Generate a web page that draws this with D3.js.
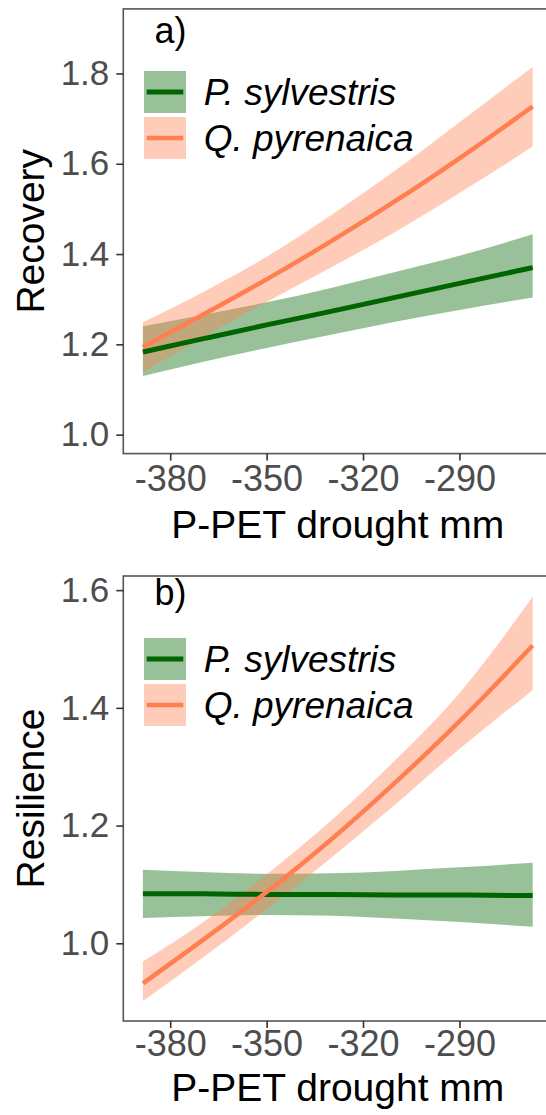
<!DOCTYPE html>
<html>
<head>
<meta charset="utf-8">
<script src="https://cdn.jsdelivr.net/npm/d3@7"></script>
<style>
  html, body { margin: 0; padding: 0; background: #ffffff; }
  svg { display: block; }
</style>
</head>
<body>
<div id="chart"></div>
<script>
// ---------- data ----------
const species = ["P. sylvestris", "Q. pyrenaica"];
const xPts = [-388.5, -370, -350, -330, -310, -290, -267.2];
const xTicks = [-380, -350, -320, -290];

// a) Recovery
const recPsFit = [1.183, 1.212, 1.243, 1.273, 1.304, 1.335, 1.370];
const recPsLo  = [1.130, 1.161, 1.192, 1.221, 1.250, 1.276, 1.304];
const recPsHi  = [1.240, 1.265, 1.293, 1.325, 1.360, 1.396, 1.444];
const recQpFit = [1.194, 1.265, 1.344, 1.428, 1.517, 1.612, 1.727];
const recQpLo  = [1.138, 1.215, 1.294, 1.370, 1.449, 1.535, 1.638];
const recQpHi  = [1.249, 1.315, 1.394, 1.486, 1.585, 1.692, 1.815];
const recTicks = [1.0, 1.2, 1.4, 1.6, 1.8];

// b) Resilience
const resPsFit = [1.084, 1.084, 1.083, 1.083, 1.082, 1.082, 1.081];
const resPsLo  = [1.043, 1.046, 1.048, 1.047, 1.042, 1.036, 1.028];
const resPsHi  = [1.125, 1.121, 1.118, 1.119, 1.123, 1.129, 1.137];
const resQpFit = [0.932, 1.005, 1.087, 1.176, 1.273, 1.377, 1.506];
const resQpLo  = [0.902, 0.975, 1.058, 1.145, 1.236, 1.330, 1.430];
const resQpHi  = [0.969, 1.035, 1.117, 1.208, 1.311, 1.425, 1.589];
const resTicks = [1.0, 1.2, 1.4, 1.6];

// ---------- styling ----------
const W = 546, H = 1115;
const colLine = ["#006400", "#FF7F50"];
const ribbonAlpha = 0.4;
const font = "'Liberation Sans', Arial, sans-serif";

const svg = d3.select("#chart").append("svg")
  .attr("width", W).attr("height", H)
  .style("background", "#fff");

function build(fit, lo, hi) {
  return xPts.map((x, i) => ({ x, fit: fit[i], lo: lo[i], hi: hi[i] }));
}

function panel(cfg) {
  const x = d3.scaleLinear().domain([-394.6, -261.1]).range([123.3, 552.3]);
  const y = d3.scaleLinear().domain(cfg.yDomain).range([cfg.bottom, cfg.top]);
  const g = svg.append("g");

  const clipId = "clip" + cfg.label.replace(/\W/g, "");
  svg.append("clipPath").attr("id", clipId)
    .append("rect").attr("x", 123.3).attr("y", cfg.top)
    .attr("width", 460).attr("height", cfg.bottom - cfg.top);

  const plot = g.append("g").attr("clip-path", `url(#${clipId})`);
  const area = d3.area().x(d => x(d.x)).y0(d => y(d.lo)).y1(d => y(d.hi)).curve(d3.curveMonotoneX);
  const line = d3.line().x(d => x(d.x)).y(d => y(d.fit)).curve(d3.curveMonotoneX);

  cfg.series.forEach((s, i) => {
    plot.append("path").datum(s).attr("d", area)
      .attr("fill", colLine[i]).attr("fill-opacity", ribbonAlpha);
  });
  cfg.series.forEach((s, i) => {
    plot.append("path").datum(s).attr("d", line)
      .attr("fill", "none").attr("stroke", colLine[i])
      .attr("stroke-width", i === 0 ? 5 : 4.5);
  });

  // panel border
  g.append("rect").attr("x", 123.3).attr("y", cfg.top)
    .attr("width", 460).attr("height", cfg.bottom - cfg.top)
    .attr("fill", "none").attr("stroke", "#555").attr("stroke-width", 1.6);

  // axes
  const ya = g.append("g").attr("transform", "translate(123.3,0)")
    .call(d3.axisLeft(y).tickValues(cfg.yTicks).tickFormat(d3.format(".1f")).tickSize(7).tickPadding(7));
  const xa = g.append("g").attr("transform", `translate(0,${cfg.bottom})`)
    .call(d3.axisBottom(x).tickValues(xTicks).tickFormat(d => String(d)).tickSize(7).tickPadding(cfg.xPad));
  [ya, xa].forEach(a => {
    a.select(".domain").remove();
    a.selectAll(".tick line").attr("stroke", "#333").attr("stroke-width", 1.6);
    a.selectAll(".tick text").attr("fill", "#4d4d4d")
      .style("font-family", font).style("font-size", "35px");
  });
  xa.selectAll(".tick text").style("font-size", "36px");

  // titles
  g.append("text").attr("x", 337.8).attr("y", cfg.xTitleY)
    .attr("text-anchor", "middle").style("font-family", font).style("font-size", "39px")
    .attr("fill", "#000").text("P-PET drought mm");
  g.append("text")
    .attr("transform", `translate(43.5,${(cfg.top + cfg.bottom) / 2}) rotate(-90)`)
    .attr("text-anchor", "middle").style("font-family", font).style("font-size", "39px")
    .attr("fill", "#000").text(cfg.yTitle);

  // panel label
  g.append("text").attr("x", 154.5).attr("y", cfg.labelY)
    .style("font-family", font).style("font-size", "36px").attr("fill", "#000").text(cfg.label);

  // legend
  species.forEach((sp, i) => {
    const ky = cfg.legendTop + i * 46;
    g.append("rect").attr("x", 144).attr("y", ky).attr("width", 42).attr("height", 42)
      .attr("fill", colLine[i]).attr("fill-opacity", ribbonAlpha);
    g.append("line").attr("x1", 146.7).attr("x2", 183.3).attr("y1", ky + 21).attr("y2", ky + 21)
      .attr("stroke", colLine[i]).attr("stroke-width", i === 0 ? 5 : 4.5);
    g.append("text").attr("x", 203.7).attr("y", ky + 34.4)
      .style("font-family", font).style("font-size", "37px").style("font-style", "italic")
      .attr("fill", "#000").text(sp);
  });
}

panel({
  label: "a)", labelY: 42.7, yTitle: "Recovery",
  top: 8.9, bottom: 453.6, yDomain: [0.958, 1.943], yTicks: recTicks,
  xTitleY: 538.3, xPad: 5, legendTop: 71,
  series: [build(recPsFit, recPsLo, recPsHi), build(recQpFit, recQpLo, recQpHi)]
});

panel({
  label: "b)", labelY: 605, yTitle: "Resilience",
  top: 576, bottom: 1021, yDomain: [0.868, 1.624], yTicks: resTicks,
  xTitleY: 1101, xPad: 2, legendTop: 638,
  series: [build(resPsFit, resPsLo, resPsHi), build(resQpFit, resQpLo, resQpHi)]
});
</script>
</body>
</html>
